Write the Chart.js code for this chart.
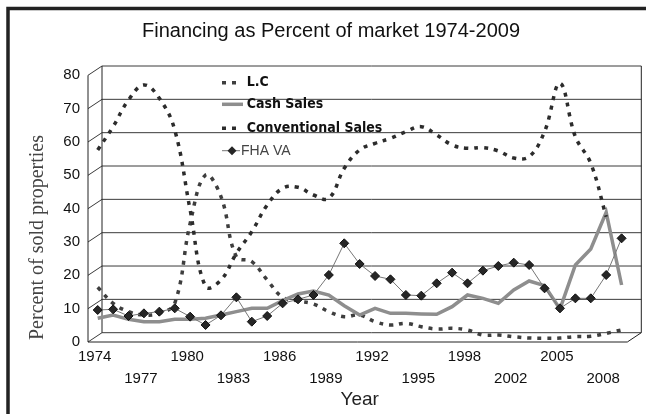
<!DOCTYPE html>
<html>
<head>
<meta charset="utf-8">
<title>Financing as Percent of market 1974-2009</title>
<script src="https://cdn.jsdelivr.net/npm/chart.js@4.4.1/dist/chart.umd.min.js"></script>
<style>
  html, body { margin: 0; padding: 0; background: #fff; }
  #wrap { width: 646px; height: 414px; }
</style>
</head>
<body>
<div id="wrap"><canvas id="chart"></canvas></div>
<script>
// one value per year (no 1999 row in the source table)
const years = [1974, 1975, 1976, 1977, 1978, 1979, 1980, 1981, 1982, 1983, 1984, 1985,
  1986, 1987, 1988, 1989, 1990, 1991, 1992, 1993, 1994, 1995, 1996, 1997, 1998,
  2000, 2001, 2002, 2003, 2004, 2005, 2006, 2007, 2008, 2009];
const tickLabels = ["1974", "1977", "1980", "1983", "1986", "1989", "1992", "1995", "1998", "2002", "2005", "2008"];
const yTicks = [0, 10, 20, 30, 40, 50, 60, 70, 80];

const lcValues = [15.8, 11, 8.5, 7.5, 8, 11, 35, 49.5, 43, 25, 23.5, 18, 12.8, 11.7, 10.8, 8.5, 7,
  7.5, 5.5, 4.5, 5, 4, 3.3, 3.5, 3, 1.5, 1.5, 1, 0.6, 0.5, 0.6, 1, 1.1, 2, 3];
const cashValues = [6.5, 7.5, 6.2, 5.5, 5.5, 6.2, 6.2, 6.5, 7.5, 8.5, 9.5, 9.5, 11.8, 13.8, 14.7, 13.5,
  10.3, 7.5, 9.5, 8, 8, 7.8, 7.7, 10, 13.5, 12.5, 11, 15, 17.7, 16.3, 9.3, 22.5, 27.3, 38.3, 16.5];
const conventionalValues = [57, 64, 72, 76.5, 72.5, 63, 39, 16, 18, 26, 32.5, 40.5, 45.5, 45.8, 43.5,
  42.5, 51.5, 57, 59, 60.5, 62.5, 64, 61.5, 58.5, 57.5, 57.7, 56.7, 54.6, 55, 62.5, 77, 61, 53, 37, null];
const fhaValues = [9.0, 9.2, 7.2, 8.0, 8.5, 9.5, 7.0, 4.5, 7.4, 12.8, 5.5, 7.2, 11.0, 12.2, 13.5, 19.5,
  29.0, 22.8, 19.2, 18.2, 13.5, 13.3, 17.0, 20.2, 17.0, 20.8, 22.2, 23.2, 22.5, 15.5, 9.5, 12.5, 12.5, 19.5, 30.5];

// fake 3-D box: back wall sits up-right of the data plane, front edge down-left
const BACK = { dx: 12, dy: -7.3 };
const FRONT = { dx: -2, dy: 2 };

const box3d = {
  id: "box3d",
  beforeDraw(chart) {
    const ctx = chart.ctx;
    ctx.save();
    ctx.fillStyle = "#fff";
    ctx.fillRect(0, 0, chart.width, chart.height);
    // picture frame, only left and top edges show
    ctx.strokeStyle = "#222";
    ctx.lineWidth = 3.5;
    ctx.beginPath();
    ctx.moveTo(8, chart.height);
    ctx.lineTo(8, 8.5);
    ctx.lineTo(chart.width, 8.5);
    ctx.stroke();
    // chart title
    ctx.fillStyle = "#111";
    ctx.font = "20px 'Liberation Sans', Arial, sans-serif";
    ctx.textAlign = "center";
    ctx.textBaseline = "middle";
    ctx.fillText("Financing as Percent of market 1974-2009", 331, 31);
    ctx.restore();
  },
  beforeDatasetsDraw(chart) {
    const { ctx, chartArea: ca, scales } = chart;
    const y = scales.y;
    const bl = ca.left + BACK.dx, br = ca.right + BACK.dx;
    const fl = ca.left + FRONT.dx, fr = ca.right + FRONT.dx;
    const yb = v => y.getPixelForValue(v) + BACK.dy;
    const yf = v => y.getPixelForValue(v) + FRONT.dy;
    ctx.save();
    ctx.lineWidth = 1;
    ctx.strokeStyle = "#3a3a3a";
    yTicks.forEach(v => {
      ctx.beginPath();
      ctx.moveTo(fl, yf(v));
      ctx.lineTo(bl, yb(v));
      ctx.lineTo(br, yb(v));
      ctx.stroke();
    });
    ctx.strokeStyle = "#222";
    ctx.beginPath();
    // front axis
    ctx.moveTo(fl, yf(80));
    ctx.lineTo(fl, yf(0));
    ctx.lineTo(fr, yf(0));
    ctx.lineTo(br, yb(0));
    ctx.lineTo(br, yb(80));
    // back wall left edge
    ctx.moveTo(bl, yb(80));
    ctx.lineTo(bl, yb(0));
    ctx.stroke();
    ctx.restore();
  },
  afterDatasetsDraw(chart) {
    const ctx = chart.ctx;
    const rows = [82.7, 104.3, 128.3, 150.7];
    ctx.save();
    chart.data.datasets.forEach((ds, i) => {
      const ry = rows[i];
      ctx.strokeStyle = ds.borderColor;
      ctx.lineWidth = ds.borderWidth;
      ctx.setLineDash(ds.borderDash || []);
      ctx.beginPath();
      ctx.moveTo(222, ry);
      ctx.lineTo(i === 1 ? 243 : 240, ry);
      ctx.stroke();
      ctx.setLineDash([]);
      ctx.textAlign = "left";
      ctx.textBaseline = "middle";
      if (ds.pointRadius > 0) {
        ctx.fillStyle = ds.pointBackgroundColor;
        ctx.beginPath();
        ctx.moveTo(232, ry - 4.5);
        ctx.lineTo(236.5, ry);
        ctx.lineTo(232, ry + 4.5);
        ctx.lineTo(227.5, ry);
        ctx.closePath();
        ctx.fill();
        ctx.fillStyle = "#444";
        ctx.font = "14px 'Liberation Sans', Arial, sans-serif";
        ctx.fillText(ds.label, 241, ry);
      } else {
        ctx.fillStyle = "#111";
        ctx.font = "bold 14px 'Liberation Sans Narrow', 'DejaVu Sans Condensed', sans-serif";
        ctx.fillText(ds.label, 246.7, ry);
      }
    });
    ctx.restore();
  }
};

const ctx = document.getElementById("chart").getContext("2d");
const chart = new Chart(ctx, {
  type: "line",
  data: {
    labels: years,
    datasets: [
      {
        label: "L.C",
        data: lcValues,
        borderColor: "#3e3e3e",
        borderWidth: 3.5,
        borderDash: [4, 6],
        tension: 0.4,
        pointRadius: 0,
        order: 4,
      },
      {
        label: "Cash Sales",
        data: cashValues,
        borderColor: "#8e8e8e",
        borderWidth: 3.5,
        tension: 0,
        pointRadius: 0,
        order: 3,
      },
      {
        label: "Conventional Sales",
        data: conventionalValues,
        borderColor: "#2c2c2c",
        borderWidth: 3.5,
        borderDash: [4, 6],
        tension: 0.4,
        pointRadius: 0,
        spanGaps: false,
        order: 2,
      },
      {
        label: "FHA VA",
        data: fhaValues,
        borderColor: "#777",
        borderWidth: 1,
        tension: 0,
        pointStyle: "rectRot",
        pointRadius: 4.5,
        pointBackgroundColor: "#262626",
        pointBorderColor: "#111",
        pointBorderWidth: 1,
        order: 1,
      },
    ],
  },
  options: {
    responsive: true,
    maintainAspectRatio: false,
    animation: false,
    events: [],
    layout: { padding: { top: 73.3, right: 16.7, bottom: 0, left: 0 } },
    plugins: {
      legend: { display: false },
      title: { display: false },
      tooltip: { enabled: false },
    },
    scales: {
      x: {
        type: "category",
        offset: true,
        grid: { display: false, drawTicks: false },
        border: { display: false },
        afterFit: s => { s.height = 74; },
        ticks: {
          autoSkip: false,
          maxRotation: 0,
          minRotation: 0,
          padding: 6,
          labelOffset: -3,
          color: "#111",
          font: { family: "'Liberation Sans', Arial, sans-serif", size: 15, lineHeight: 1.45 },
          callback: function (value) {
            const label = String(this.getLabelForValue(value));
            const k = tickLabels.indexOf(label);
            if (k < 0) return "";
            return k % 2 === 0 ? [label, ""] : ["", label];
          },
        },
        title: {
          display: true,
          text: "Year",
          color: "#222",
          font: { family: "'Liberation Sans', Arial, sans-serif", size: 19 },
          padding: { top: 0, bottom: 3 },
        },
      },
      y: {
        min: 0,
        max: 80,
        grid: { display: false, drawTicks: false },
        border: { display: false },
        afterFit: s => { s.width = 90; },
        ticks: {
          stepSize: 10,
          padding: 10,
          labelOffset: 2,
          color: "#111",
          font: { family: "'Liberation Sans', Arial, sans-serif", size: 15 },
        },
        title: {
          display: true,
          text: "Percent of sold properties",
          align: "start",
          color: "#444",
          font: { family: "'Liberation Serif', 'Times New Roman', serif", size: 20 },
          padding: { top: 26, bottom: 0 },
        },
      },
    },
  },
  plugins: [box3d],
});
</script>
</body>
</html>
